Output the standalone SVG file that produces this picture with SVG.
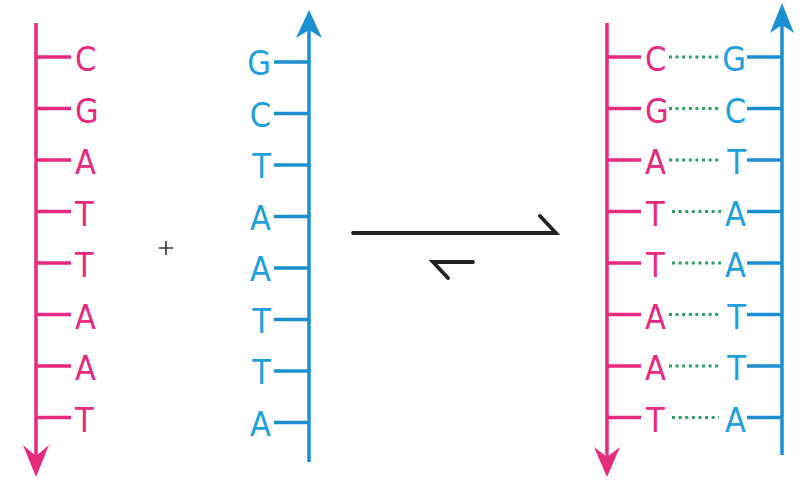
<svg xmlns="http://www.w3.org/2000/svg" width="810" height="480" viewBox="0 0 810 480">
<style>
.pk{stroke:#e62a7d;stroke-width:3.5;fill:none}
.bl{stroke:#1b8fd0;stroke-width:3.5;fill:none}
.pkf{fill:#e62a7d}
.blf{fill:#1b8fd0}
.tp{font-family:"DejaVu Sans Condensed","DejaVu Sans",sans-serif;font-size:34px;fill:#e62a7d}
.tb{font-family:"DejaVu Sans Condensed","DejaVu Sans",sans-serif;font-size:34px;fill:#1fa0dc;text-anchor:end}
.hb{stroke:#2f9f62;stroke-width:3;stroke-dasharray:3 3.6;fill:none}
.eq{stroke:#222;stroke-width:3.8;fill:none;stroke-linecap:round}
</style>
<rect width="810" height="480" fill="#fff"/>
<g id="strand-pink">
<path class="pk" d="M36 23V458M36 57H71M36 108.5H71M36 160H71M36 211.5H71M36 263H71M36 314.5H71M36 366H71M36 417.5H71"/>
<polygon class="pkf" points="36,477 23,445 36,456 49,445"/>
<text class="tp" x="75" y="71">C</text>
<text class="tp" x="75" y="122.5">G</text>
<text class="tp" x="75" y="174">A</text>
<text class="tp" x="75" y="225.5">T</text>
<text class="tp" x="75" y="277">T</text>
<text class="tp" x="75" y="328.5">A</text>
<text class="tp" x="75" y="380">A</text>
<text class="tp" x="75" y="431.5">T</text>
</g>
<g id="strand-blue">
<path class="bl" d="M309 30V462M274 62H309M274 113.5H309M274 165H309M274 216.5H309M274 268H309M274 319.5H309M274 371H309M274 422.5H309"/>
<polygon class="blf" points="309,10 296,38 309,30 322,38"/>
<text class="tb" x="271" y="75">G</text>
<text class="tb" x="271" y="126.5">C</text>
<text class="tb" x="271" y="178">T</text>
<text class="tb" x="271" y="229.5">A</text>
<text class="tb" x="271" y="281">A</text>
<text class="tb" x="271" y="332.5">T</text>
<text class="tb" x="271" y="384">T</text>
<text class="tb" x="271" y="435.5">A</text>
</g>
<g id="plus">
<path d="M166 241V255M159 248H173" stroke="#333" stroke-width="1.6" fill="none"/>
</g>
<g id="duplex">
<path class="pk" d="M607 23V458M607 57H641M607 108.5H641M607 160H641M607 211.5H641M607 263H641M607 314.5H641M607 366H641M607 417.5H641"/>
<polygon class="pkf" points="607,477 594,447 607,457 620,447"/>
<path class="bl" d="M782 25V455M747 57H782M747 108.5H782M747 160H782M747 211.5H782M747 263H782M747 314.5H782M747 366H782M747 417.5H782"/>
<polygon class="blf" points="782,3 770,33 782,25 794,33"/>
<path class="hb" d="M669 57H721M669 108.5H721M669 160H721M672 211.5H721M672 263H721M669 314.5H721M669 366H721M672 417.5H719"/>
<text class="tp" x="645" y="71">C</text>
<text class="tp" x="645" y="122.5">G</text>
<text class="tp" x="645" y="174">A</text>
<text class="tp" x="646" y="225.5">T</text>
<text class="tp" x="646" y="277">T</text>
<text class="tp" x="645" y="328.5">A</text>
<text class="tp" x="645" y="380">A</text>
<text class="tp" x="646" y="431.5">T</text>
<text class="tb" x="746" y="71">G</text>
<text class="tb" x="746" y="122.5">C</text>
<text class="tb" x="746" y="174">T</text>
<text class="tb" x="746" y="225.5">A</text>
<text class="tb" x="746" y="277">A</text>
<text class="tb" x="746" y="328.5">T</text>
<text class="tb" x="746" y="380">T</text>
<text class="tb" x="746" y="431.5">A</text>
</g>
<g id="connectors">
<path class="eq" d="M353 233H556L540 216"/>
<path class="eq" d="M473 262H433L448 278"/>
</g>
</svg>
